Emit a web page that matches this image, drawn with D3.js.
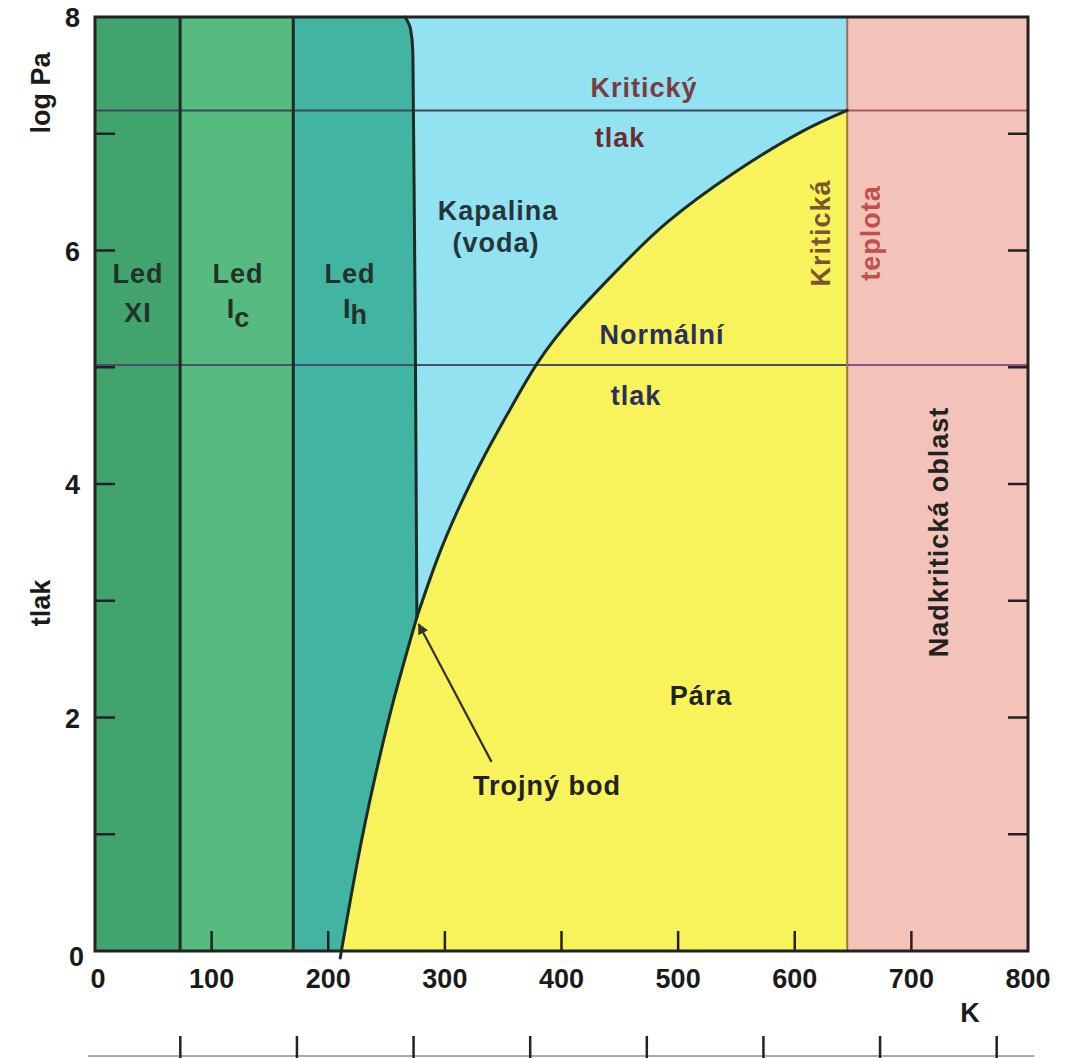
<!DOCTYPE html>
<html>
<head>
<meta charset="utf-8">
<script src="https://cdn.jsdelivr.net/npm/d3@7"></script>
<style>
  html, body { margin: 0; padding: 0; background: #ffffff; }
  svg text { font-family: "Liberation Sans", Arial, sans-serif; font-weight: bold; }
</style>
</head>
<body>
<div id="chart"></div>
<script>
// ---------- data ----------
const xTicks = [0, 100, 200, 300, 400, 500, 600, 700, 800];
const yTicks = [0, 1, 2, 3, 4, 5, 6, 7, 8];
const yLabels = [0, 2, 4, 6, 8];
const celsiusTicks = [-200, -100, 0, 100, 200, 300, 400, 500];
const iceBoundaries = [73, 170];          // K: Led XI | Led Ic | Led Ih
const criticalT = 645;                     // K
const criticalP = 7.2;                     // log Pa
const normalP = 5.02;                      // log Pa
// melting curve (Led Ih / kapalina), from top down to triple point [K, log Pa]
const meltingCurve = [[266, 8], [270.5, 7.9], [272.5, 7.7], [273, 7.2], [274.5, 5.5], [276, 2.86]];
// sublimation curve, from axis up to triple point
const sublimationCurve = [[211.3, 0], [211.8, 0.03], [225.3, 0.78], [239.7, 1.47], [256.1, 2.15], [276, 2.86]];
// vaporization curve, from triple point to critical point
const vaporCurve = [[276, 2.86], [293.2, 3.35], [311.3, 3.78], [332.3, 4.21], [355.4, 4.63], [379.6, 5.04],
                    [409.9, 5.43], [447.6, 5.83], [490.5, 6.24], [547.1, 6.66], [604.5, 7.01], [645, 7.2]];
const arrowFrom = [340, 1.62];
const arrowTo = [277.5, 2.8];

// ---------- layout ----------
const W = 1066, H = 1058;
const x = d3.scaleLinear().domain([0, 800]).range([95, 1028]);
const y = d3.scaleLinear().domain([0, 8]).range([951, 17]);

const col = {
  xi: "#40a46c", ic: "#55bb7f", ih: "#42b5a2", liquid: "#92e2f1",
  vapor: "#f8f35a", super: "#f3c3b9", line: "#1e2a24"
};

const svg = d3.select("#chart").append("svg").attr("width", W).attr("height", H);

const lineMelt = d3.line().x(d => x(d[0])).y(d => y(d[1])).curve(d3.curveMonotoneY);
const lineSub = d3.line().x(d => x(d[0])).y(d => y(d[1])).curve(d3.curveNatural);
const lineVap = d3.line().x(d => x(d[0])).y(d => y(d[1])).curve(d3.curveNatural);
const seg = (gen, pts) => gen(pts).replace(/^M/, "L");
const rev = a => a.slice().reverse();

// ---------- regions ----------
svg.append("rect").attr("x", x(0)).attr("y", y(8)).attr("width", x(iceBoundaries[0]) - x(0)).attr("height", y(0) - y(8)).attr("fill", col.xi);
svg.append("rect").attr("x", x(iceBoundaries[0])).attr("y", y(8)).attr("width", x(iceBoundaries[1]) - x(iceBoundaries[0])).attr("height", y(0) - y(8)).attr("fill", col.ic);
svg.append("rect").attr("x", x(criticalT)).attr("y", y(8)).attr("width", x(800) - x(criticalT)).attr("height", y(0) - y(8)).attr("fill", col.super);

// Led Ih
svg.append("path").attr("fill", col.ih).attr("d",
  `M${x(iceBoundaries[1])},${y(0)} L${x(iceBoundaries[1])},${y(8)} ` +
  seg(lineMelt, meltingCurve) + " " + seg(lineSub, rev(sublimationCurve)) + " Z");
// Kapalina
svg.append("path").attr("fill", col.liquid).attr("d",
  `M${x(meltingCurve[0][0])},${y(8)} L${x(criticalT)},${y(8)} ` +
  seg(lineVap, rev(vaporCurve)) + " " + seg(lineMelt, rev(meltingCurve)) + " Z");
// Pára
svg.append("path").attr("fill", col.vapor).attr("d",
  lineSub(sublimationCurve) + " " + seg(lineVap, vaporCurve) + ` L${x(criticalT)},${y(0)} Z`);

// ---------- reference lines ----------
function hline(p, x0, x1, color, w) {
  svg.append("line").attr("x1", x(x0)).attr("x2", x(x1)).attr("y1", y(p)).attr("y2", y(p))
    .attr("stroke", color).attr("stroke-width", w);
}
hline(criticalP, 0, criticalT, "#3b4658", 2);
hline(criticalP, criticalT, 800, "#b0566a", 2);
hline(normalP, 0, criticalT, "#47506e", 2);
hline(normalP, criticalT, 800, "#9a4c86", 2);
svg.append("line").attr("x1", x(criticalT)).attr("x2", x(criticalT)).attr("y1", y(0)).attr("y2", y(8))
  .attr("stroke", "#9a7448").attr("stroke-width", 2);

// ---------- phase boundaries ----------
iceBoundaries.forEach(t => {
  svg.append("line").attr("x1", x(t)).attr("x2", x(t)).attr("y1", y(0)).attr("y2", y(8))
    .attr("stroke", col.line).attr("stroke-width", 3);
});
[[lineMelt, meltingCurve], [lineSub, sublimationCurve], [lineVap, vaporCurve]].forEach(([gen, c]) => {
  svg.append("path").attr("d", gen(c)).attr("fill", "none").attr("stroke", col.line)
    .attr("stroke-width", 3).attr("stroke-linecap", "round");
});

// ---------- arrow ----------
svg.append("defs").append("marker").attr("id", "ah").attr("viewBox", "0 0 10 10")
  .attr("refX", 9).attr("refY", 5).attr("markerWidth", 5).attr("markerHeight", 5).attr("orient", "auto")
  .append("path").attr("d", "M0,0 L10,5 L0,10 Z").attr("fill", "#333");
svg.append("line").attr("x1", x(arrowFrom[0])).attr("y1", y(arrowFrom[1]))
  .attr("x2", x(arrowTo[0])).attr("y2", y(arrowTo[1]))
  .attr("stroke", "#333").attr("stroke-width", 2.2).attr("marker-end", "url(#ah)");

// ---------- frame & axes ----------
svg.append("rect").attr("x", x(0)).attr("y", y(8)).attr("width", x(800) - x(0)).attr("height", y(0) - y(8))
  .attr("fill", "none").attr("stroke", "#222").attr("stroke-width", 3);

const tickLen = 20;
const g = svg.append("g").attr("stroke", "#222").attr("stroke-width", 2.5);
xTicks.slice(1, -1).forEach(t => g.append("line").attr("x1", x(t)).attr("x2", x(t)).attr("y1", y(0)).attr("y2", y(0) - tickLen));
yTicks.slice(1, -1).forEach(p => {
  g.append("line").attr("x1", x(0)).attr("x2", x(0) + tickLen).attr("y1", y(p)).attr("y2", y(p));
  g.append("line").attr("x1", x(800)).attr("x2", x(800) - tickLen).attr("y1", y(p)).attr("y2", y(p));
});

const fs = 27;
xTicks.forEach(t => {
  svg.append("text").attr("x", x(t) + (t === 0 ? 3 : 0)).attr("y", 988).attr("text-anchor", "middle")
    .attr("font-size", fs).attr("fill", "#1a1a1a").text(t);
});
yLabels.forEach(p => {
  const yy = p === 0 ? 966 : y(p) + 10;
  svg.append("text").attr("x", p === 0 ? 84 : 80).attr("y", yy).attr("text-anchor", "end")
    .attr("font-size", fs).attr("fill", "#1a1a1a").text(p);
});
svg.append("text").attr("x", 970).attr("y", 1022).attr("text-anchor", "middle").attr("font-size", fs).attr("fill", "#1a1a1a").text("K");
svg.append("text").attr("transform", "translate(50,93) rotate(-90)").attr("text-anchor", "middle")
  .attr("font-size", fs).attr("fill", "#1a1a1a").text("log Pa");
svg.append("text").attr("transform", "translate(50,603) rotate(-90)").attr("text-anchor", "middle")
  .attr("font-size", fs).attr("fill", "#1a1a1a").text("tlak");

// second (Celsius) scale, cut off at the bottom
svg.append("line").attr("x1", 88).attr("x2", 1034).attr("y1", 1056).attr("y2", 1056).attr("stroke", "#aaa").attr("stroke-width", 2);
celsiusTicks.forEach(c => {
  svg.append("line").attr("x1", x(c + 273.15)).attr("x2", x(c + 273.15)).attr("y1", 1036).attr("y2", 1058)
    .attr("stroke", "#222").attr("stroke-width", 2.5);
});

// ---------- labels ----------
function label(txt, px, py, color, opts = {}) {
  const t = svg.append("text").attr("text-anchor", "middle").attr("font-size", opts.size || fs)
    .attr("fill", color).attr("letter-spacing", 1);
  if (opts.rotate) t.attr("transform", `translate(${px},${py}) rotate(-90)`);
  else t.attr("x", px).attr("y", py);
  t.text(txt);
  return t;
}
const dark = "#24302a";
label("Led", 138, 283, dark);
label("XI", 138, 322, dark);
label("Led", 238, 283, dark);
label("Led", 350, 283, dark);
const ic = svg.append("text").attr("x", 238).attr("y", 318).attr("text-anchor", "middle").attr("font-size", fs).attr("fill", dark);
ic.append("tspan").text("I"); ic.append("tspan").attr("dy", 9).text("c");
const ih = svg.append("text").attr("x", 355).attr("y", 318).attr("text-anchor", "middle").attr("font-size", fs).attr("fill", dark);
ih.append("tspan").text("I"); ih.append("tspan").attr("dy", 6).text("h");

label("Kapalina", 498, 220, "#26343c");
label("(voda)", 496, 252, "#26343c");
label("Kritický", 644, 97, "#7a3c40");
label("tlak", 620, 147, "#6a2e30");
label("Normální", 662, 344, "#2c2f5a");
label("tlak", 636, 405, "#2c2f5a");
label("Pára", 701, 705, "#222");
label("Trojný bod", 547, 795, "#222");
label("Kritická", 830, 233, "#7a5630", { rotate: true });
label("teplota", 880, 233, "#c0504e", { rotate: true });
label("Nadkritická oblast", 948, 532, "#222", { rotate: true });
</script>
</body>
</html>
